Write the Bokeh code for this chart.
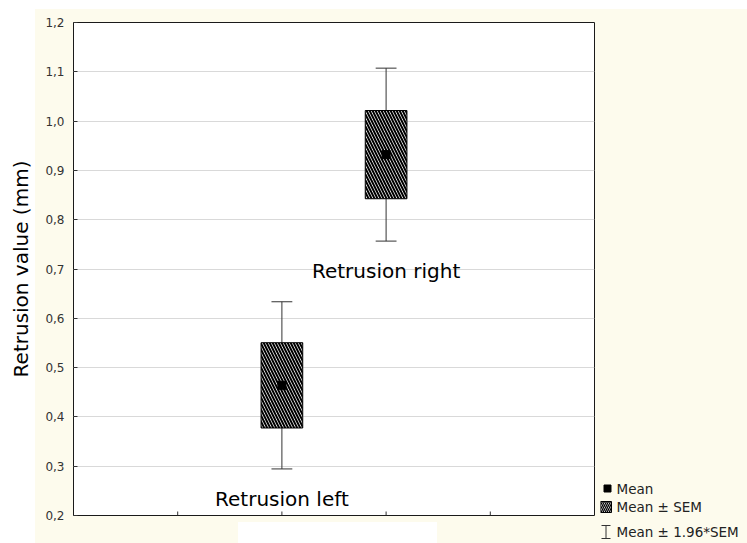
import numpy as np
from bokeh.plotting import figure
from bokeh.layouts import row
from bokeh.models import Range1d, FixedTicker, CustomJSTickFormatter
from bokeh.core.properties import value
from bokeh.embed import file_html
from bokeh.resources import INLINE

# ---- data ----
categories = ["Retrusion left", "Retrusion right"]
means = [0.464, 0.932]
sems = [0.0865, 0.0895]
y_ticks = [0.2, 0.3, 0.4, 0.5, 0.6, 0.7, 0.8, 0.9, 1.0, 1.1, 1.2]
x_ticks = [1, 2, 3, 4]
legend_labels = ["Mean", "Mean \u00b1 SEM", "Mean \u00b1 1.96*SEM"]
y_label = "Retrusion value (mm)"

# ---- derived ----
xs = np.arange(len(categories)) + 2.0
m = np.array(means)
s = np.array(sems)
box_lo, box_hi = m - s, m + s
wh_lo, wh_hi = m - 1.96 * s, m + 1.96 * s

FONT = "DejaVu Sans"
CREAM = "#fdfbed"
BOX_HALF = 0.2
CAP_HALF = 0.1
Y0, Y1 = 0.2, 1.2
MAIN_W, LEG_W, H = 600, 147, 543
TICK_LEN = 4 * (Y1 - Y0) / 493.0

p = figure(width=MAIN_W, height=H, x_range=Range1d(0, 5), y_range=Range1d(Y0, Y1),
           output_backend="svg", toolbar_location=None,
           min_border_left=73, min_border_right=6, min_border_top=22, min_border_bottom=28)
p.frame_align = False
p.border_fill_color = None
p.background_fill_color = "white"
p.outline_line_color = "#1a1a1a"
p.outline_line_width = 1
p.styles = {
    "background": (
        "linear-gradient(#ffffff,#ffffff) 0px 0px / 35px 100% no-repeat, "
        "linear-gradient(#ffffff,#ffffff) 0px 0px / 100% 9px no-repeat, "
        "linear-gradient(#ffffff,#ffffff) 238px 522px / 199px 21px no-repeat, "
        + CREAM
    )
}

# y axis
p.yaxis.ticker = FixedTicker(ticks=y_ticks)
p.yaxis.formatter = CustomJSTickFormatter(code="return tick.toFixed(1).replace('.', ',');")
p.yaxis.major_label_text_font = FONT
p.yaxis.major_label_text_font_size = "12px"
p.yaxis.major_label_text_color = "#333333"
p.yaxis.major_label_standoff = 9
p.yaxis.major_tick_in = 4
p.yaxis.major_tick_out = 0
p.yaxis.minor_tick_line_color = None
p.yaxis.major_tick_line_color = "#333333"
p.yaxis.axis_line_color = None
p.yaxis.axis_label = y_label
p.yaxis.axis_label_text_font = FONT
p.yaxis.axis_label_text_font_size = "20px"
p.yaxis.axis_label_text_font_style = "normal"
p.yaxis.axis_label_text_color = "black"
p.yaxis.axis_label_standoff = 9

# x axis: unlabeled inner ticks only
p.xaxis.visible = False
p.segment(x0=x_ticks, y0=[Y0] * len(x_ticks), x1=x_ticks, y1=[Y0 + TICK_LEN] * len(x_ticks),
          line_color="#333333", line_width=1)

p.xgrid.visible = False
p.ygrid.ticker = FixedTicker(ticks=y_ticks)
p.ygrid.grid_line_color = "#d9d9d9"
p.ygrid.grid_line_width = 1

# whiskers
p.segment(x0=xs, y0=wh_lo, x1=xs, y1=wh_hi, line_color="#333333", line_width=1)
p.segment(x0=xs - CAP_HALF, y0=wh_hi, x1=xs + CAP_HALF, y1=wh_hi, line_color="#333333", line_width=1)
p.segment(x0=xs - CAP_HALF, y0=wh_lo, x1=xs + CAP_HALF, y1=wh_lo, line_color="#333333", line_width=1)

# SEM boxes
p.quad(left=xs - BOX_HALF, right=xs + BOX_HALF, bottom=box_lo, top=box_hi,
       fill_color="white", hatch_pattern="\\", hatch_color="black",
       hatch_scale=6, hatch_weight=2, line_color="black", line_width=1)

# means
p.scatter(x=xs, y=m, marker="square", size=8, color="black")

# category labels
p.text(x=xs, y=wh_lo, text=categories, text_align="center", text_baseline="alphabetic",
       y_offset=30, text_font=value(FONT), text_font_size="20px", text_color="black")

# ---- legend panel (pixel coordinates of the page) ----
leg = figure(width=LEG_W, height=H, x_range=Range1d(MAIN_W, MAIN_W + LEG_W), y_range=Range1d(H, 0),
             output_backend="svg", toolbar_location=None,
             x_axis_location=None, y_axis_location=None,
             min_border_left=0, min_border_right=0, min_border_top=0, min_border_bottom=0)
leg.frame_align = False
leg.border_fill_color = None
leg.background_fill_color = None
leg.outline_line_color = None
leg.grid.visible = False
leg.styles = {
    "background": "linear-gradient(#ffffff,#ffffff) 0px 0px / 100% 9px no-repeat, " + CREAM
}

row_y = [488, 506.5, 531.5]
sw_x = 605.5
# Mean swatch
leg.scatter(x=[sw_x + 1.5], y=[row_y[0]], marker="square", size=7, color="black")
# SEM swatch
leg.quad(left=[sw_x - 5.5], right=[sw_x + 5.5], top=[row_y[1] - 5.5], bottom=[row_y[1] + 5.5],
         fill_color="white", hatch_pattern="\\", hatch_color="black",
         hatch_scale=4, hatch_weight=1.3, line_color="black", line_width=1)
# 1.96*SEM swatch (I-beam)
leg.segment(x0=[sw_x, sw_x - 4.5, sw_x - 4.5], y0=[row_y[2] - 6.5, row_y[2] - 6.5, row_y[2] + 6.5],
            x1=[sw_x, sw_x + 4.5, sw_x + 4.5], y1=[row_y[2] + 6.5, row_y[2] - 6.5, row_y[2] + 6.5],
            line_color="#333333", line_width=1)
leg.text(x=[616] * 3, y=row_y, text=legend_labels, text_align="left", text_baseline="middle",
         text_font=value(FONT), text_font_size="13.5px", text_color="#222222")

layout = row(p, leg, spacing=0)
open("out.html", "w").write(file_html(layout, INLINE))
